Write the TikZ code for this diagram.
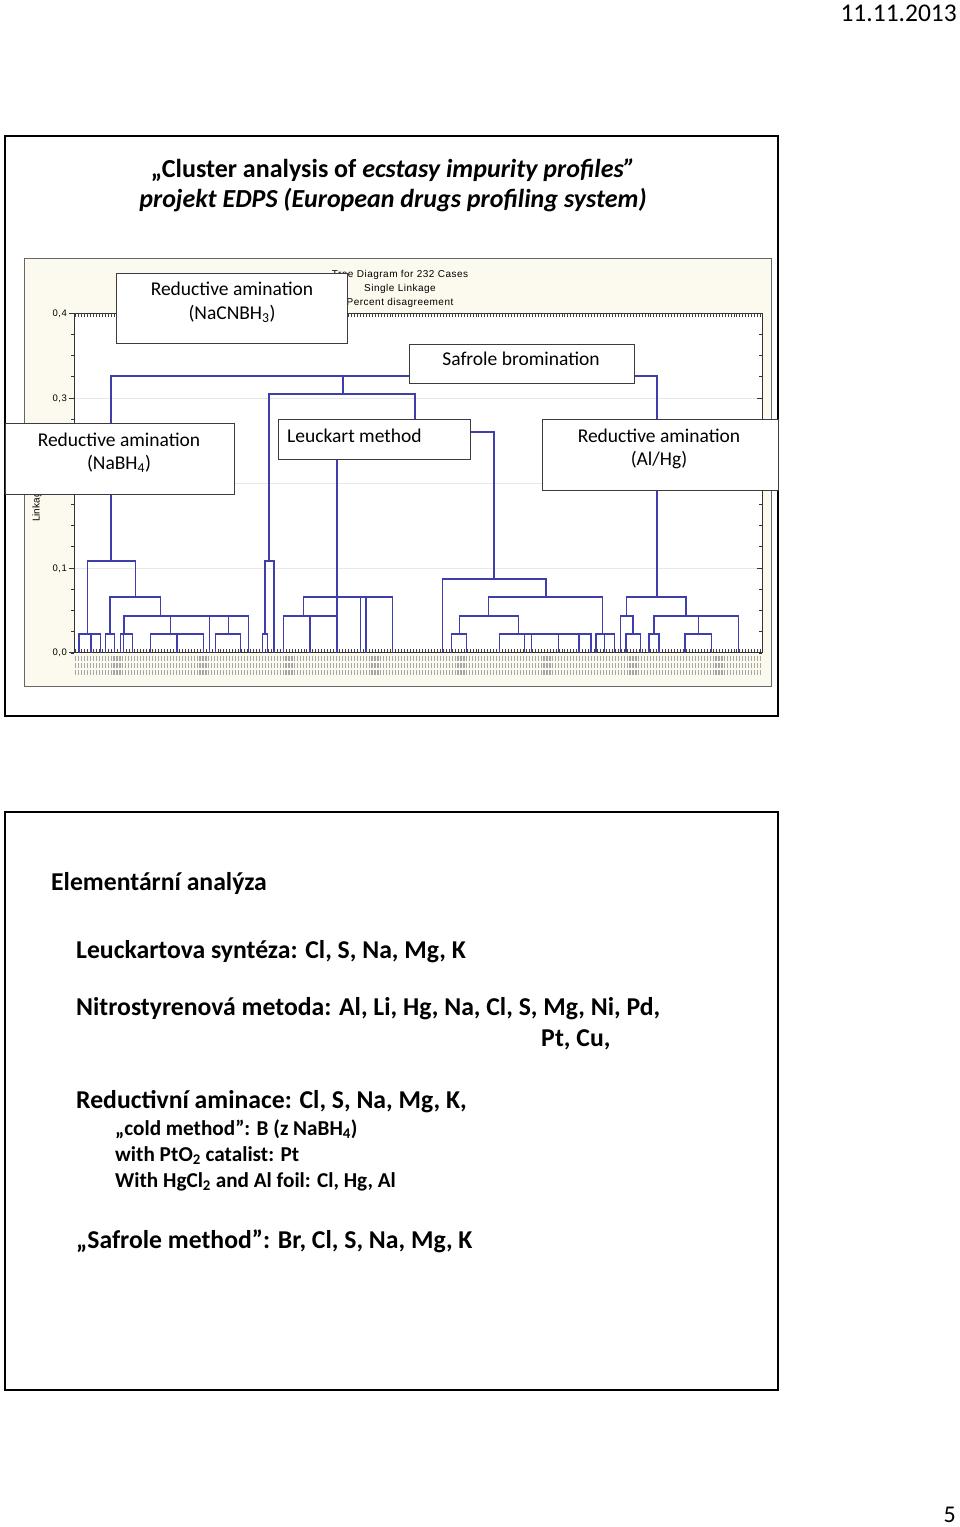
\documentclass[tikz,border=0pt]{standalone}
\usepackage{fontspec}
\setmainfont{Carlito}
\newfontfamily\arialf[LetterSpace=5]{Liberation Sans}
\newfontfamily\arialplain{Liberation Sans}
\definecolor{dendc}{RGB}{62,62,172}
\definecolor{panelbg}{RGB}{252,249,238}
\definecolor{boxline}{RGB}{60,60,60}
\definecolor{gridc}{RGB}{232,232,232}
\newcommand\dH[3]{\draw[dend] (#2,#1) -- (#3,#1);}
\newcommand\dV[3]{\draw[dend] (#1,#2) -- (#1,#3);}
\begin{document}
\begin{tikzpicture}[x=1pt,y=-1pt,
  dend/.style={draw=dendc,line width=1.3pt,line cap=rect},
  mbox/.style={draw=boxline,fill=white,line width=1.4pt,inner sep=0pt,anchor=north west},
  btxt/.style={font=\fontsize{19.5}{24}\selectfont,inner sep=0pt,anchor=base},
  ticklab/.style={font=\arialf\fontsize{9.5}{11}\selectfont,inner sep=0pt,anchor=east},
  ctitle/.style={font=\arialf\fontsize{10}{12}\selectfont,inner sep=0pt,anchor=base},
  big/.style={font=\bfseries\fontsize{25.7}{30}\selectfont,inner sep=0pt,anchor=base west},
  small/.style={font=\bfseries\fontsize{21.2}{25}\selectfont,inner sep=0pt,anchor=base west},
  frame/.style={draw=black,line width=2.5pt},
  axis/.style={draw=black!80,line width=0.8pt}
]
\useasboundingbox (0,0) rectangle (960,1527);
\fill[white] (0,0) rectangle (960,1527);

% date and page number
\node[font=\fontsize{25.5}{30}\selectfont,inner sep=0pt,anchor=base east] (date) at (957,21) {11.11.2013};
\node[font=\fontsize{24}{28}\selectfont,inner sep=0pt,anchor=base east] (pageno) at (956,1522) {5};

% ---------- upper frame ----------
\draw[frame] (5,136) rectangle (778,716);
\node[font=\bfseries\fontsize{26}{30}\selectfont,inner sep=0pt,anchor=base] (t1) at (393,177) {„Cluster analysis of \textit{ecstasy impurity profiles”}};
\node[font=\bfseries\itshape\fontsize{26}{30}\selectfont,inner sep=0pt,anchor=base] (t2) at (393,207) {projekt EDPS (European drugs profiling system)};

% chart panel
\draw[fill=panelbg,draw=black!60,line width=0.8pt] (24,258) rectangle (771,686);
\fill[white] (74,313) rectangle (762,652);
\foreach \yy in {398,483,568} {\draw[gridc,line width=0.8pt] (74,\yy) -- (762,\yy);}

% chart title
\node[ctitle] (ct1) at (400,277) {Tree Diagram for 232 Cases};
\node[ctitle] (ct2) at (400,291.5) {Single Linkage};
\node[ctitle] (ct3) at (400,305) {Percent disagreement};

% axes
\draw[axis] (74,313) -- (74,652) -- (762,652) -- (762,313) -- cycle;
\foreach \k in {0,...,16} {
  \pgfmathsetmacro\yy{313+\k*21.25}
  \draw[axis,line width=0.6pt] (74,\yy) -- (71,\yy);
  \draw[axis,line width=0.6pt] (762,\yy) -- (759,\yy);
}
\foreach \yy in {313,398,483,568,652} {
  \draw[axis] (74,\yy) -- (69,\yy);
  \draw[axis] (762,\yy) -- (757,\yy);
}
\foreach \i in {0,...,231} {
  \pgfmathsetmacro\xx{74+(\i+0.5)*2.9655}
  \draw[black!75,line width=0.6pt] (\xx,652) -- (\xx,648.5);
  \draw[black!75,line width=0.6pt] (\xx,313) -- (\xx,316.5);
  \draw[black!35,line width=1.1pt] (\xx,656) -- (\xx,661);
  \draw[black!35,line width=1.1pt] (\xx,663) -- (\xx,668);
  \draw[black!35,line width=1.1pt] (\xx,670) -- (\xx,675);
}
\node[ticklab] (y4) at (67,314) {0,4};
\node[ticklab] (y3) at (67,399) {0,3};
\node[ticklab] (y2) at (67,484) {0,2};
\node[ticklab] (y1) at (67,569) {0,1};
\node[ticklab] (y0) at (67,653) {0,0};
\node[font=\arialplain\fontsize{10}{12}\selectfont,inner sep=0pt,rotate=90,anchor=west] (ylab) at (37,522) {Linkage Distance};

% ---------- dendrogram ----------
% top level
\dH{376}{111}{657}
\dV{111}{376}{561}
\dV{343}{376}{394}
\dH{394}{269}{415}
\dV{269}{394}{561}
\dV{415}{394}{432}
\dH{432}{337}{494}
\dV{337}{432}{652}
\dV{494}{432}{579}
\dV{657}{376}{597}
% NaBH4 cluster
\dH{561}{87.7}{135.3}
\dV{87.7}{561}{634}
\dH{634}{79}{100.3}
\foreach \x in {79,91,100.3} {\dV{\x}{634}{652}}
\dV{135.3}{561}{597}
\dH{597}{110}{160.3}
\dV{110}{597}{634}
\dH{634}{105.3}{114.3}
\foreach \x in {105.3,114.3} {\dV{\x}{634}{652}}
\dV{160.3}{597}{616}
\dH{616}{124}{248.3}
\dV{124}{616}{634}
\dH{634}{120.7}{132.7}
\foreach \x in {120.7,123.3,132.7} {\dV{\x}{634}{652}}
\dV{170.3}{616}{634}
\dH{634}{150.7}{203.3}
\foreach \x in {150.7,177,203.3} {\dV{\x}{634}{652}}
\dV{209.7}{616}{652}
\dV{228.3}{616}{634}
\dH{634}{215.7}{240.7}
\foreach \x in {215.7,240.7} {\dV{\x}{634}{652}}
\dV{248.3}{616}{652}
% narrow pair
\dH{561}{265}{274}
\dV{265}{561}{634}
\dH{634}{262.3}{267.3}
\foreach \x in {262.3,267.3} {\dV{\x}{634}{652}}
\dV{274}{561}{652}
% Leuckart cluster
\dH{597}{303.3}{392.7}
\dV{303.3}{597}{616}
\dH{616}{283.3}{336.7}
\foreach \x in {283.3,310} {\dV{\x}{616}{652}}
\foreach \x in {360.7,366,392.7} {\dV{\x}{597}{652}}
% large cluster
\dH{579}{442.3}{546}
\dV{442.3}{579}{652}
\dV{546}{579}{597}
\dH{597}{488.7}{602.7}
\dV{488.7}{597}{616}
\dH{616}{459.3}{518.7}
\dV{459.3}{616}{634}
\dH{634}{451.7}{466.7}
\foreach \x in {451.7,466.7} {\dV{\x}{634}{652}}
\dV{518.7}{616}{634}
\dH{634}{499.3}{591}
\foreach \x in {499.3,524.3,531.7,558.3,579,591} {\dV{\x}{634}{652}}
\dV{602.7}{597}{634}
\dH{634}{596}{614.3}
\foreach \x in {596,604.3,614.3} {\dV{\x}{634}{652}}
% Al/Hg cluster
\dH{597}{626.7}{686}
\dV{626.7}{597}{616}
\dH{616}{620.3}{633}
\dV{620.3}{616}{652}
\dV{633}{616}{634}
\dH{634}{626}{640.3}
\foreach \x in {626,640.3} {\dV{\x}{634}{652}}
\dV{686}{597}{616}
\dH{616}{654}{738.3}
\dV{654}{616}{634}
\dH{634}{649}{659}
\foreach \x in {649,659} {\dV{\x}{634}{652}}
\dV{698.3}{616}{634}
\dH{634}{685}{711.7}
\foreach \x in {685,711.7} {\dV{\x}{634}{652}}
\dV{738.3}{616}{652}

% ---------- label boxes ----------
\node[mbox,minimum width=231pt,minimum height=70pt] (bnacn) at (116,273) {};
\node[btxt] (bnacn1) at (232,295.5) {Reductive amination};
\node[btxt] (bnacn2) at (232,319) {(NaCNBH\textsubscript{3})};

\node[mbox,minimum width=225pt,minimum height=39pt] (bsaf) at (409,344) {};
\node[btxt] (bsaf1) at (521,365.7) {Safrole bromination};

\node[mbox,minimum width=229pt,minimum height=71pt] (bnabh) at (5,423) {};
\node[btxt] (bnabh1) at (119,446) {Reductive amination};
\node[btxt] (bnabh2) at (119,469) {(NaBH\textsubscript{4})};

\node[mbox,minimum width=192pt,minimum height=40pt] (bleu) at (278,419) {};
\node[btxt,anchor=base west] (bleu1) at (287,442) {Leuckart method};

\node[mbox,minimum width=236pt,minimum height=71pt] (balhg) at (542,419) {};
\node[btxt] (balhg1) at (659,442) {Reductive amination};
\node[btxt] (balhg2) at (659,465) {(Al/Hg)};

% ---------- lower frame ----------
\draw[frame] (5,812) rectangle (778,1390);
\node[big] (el) at (51,890) {Elementární analýza};
\node[big] (le) at (76,958) {Leuckartova syntéza: Cl, S, Na, Mg, K};
\node[big] (ni) at (76,1015) {Nitrostyrenová metoda: Al, Li, Hg, Na, Cl, S, Mg, Ni, Pd,};
\node[big] (pt) at (541,1046) {Pt, Cu,};
\node[big] (re) at (76,1108) {Reductivní aminace: Cl, S, Na, Mg, K,};
\node[small] (co) at (115,1135) {„cold method”: B (z NaBH\textsubscript{4})};
\node[small] (wp) at (115,1161) {with PtO\textsubscript{2} catalist: Pt};
\node[small] (wh) at (115,1187) {With HgCl\textsubscript{2} and Al foil: Cl, Hg, Al};
\node[big] (sa) at (76,1248) {„Safrole method”: Br, Cl, S, Na, Mg, K};
\end{tikzpicture}
\end{document}
